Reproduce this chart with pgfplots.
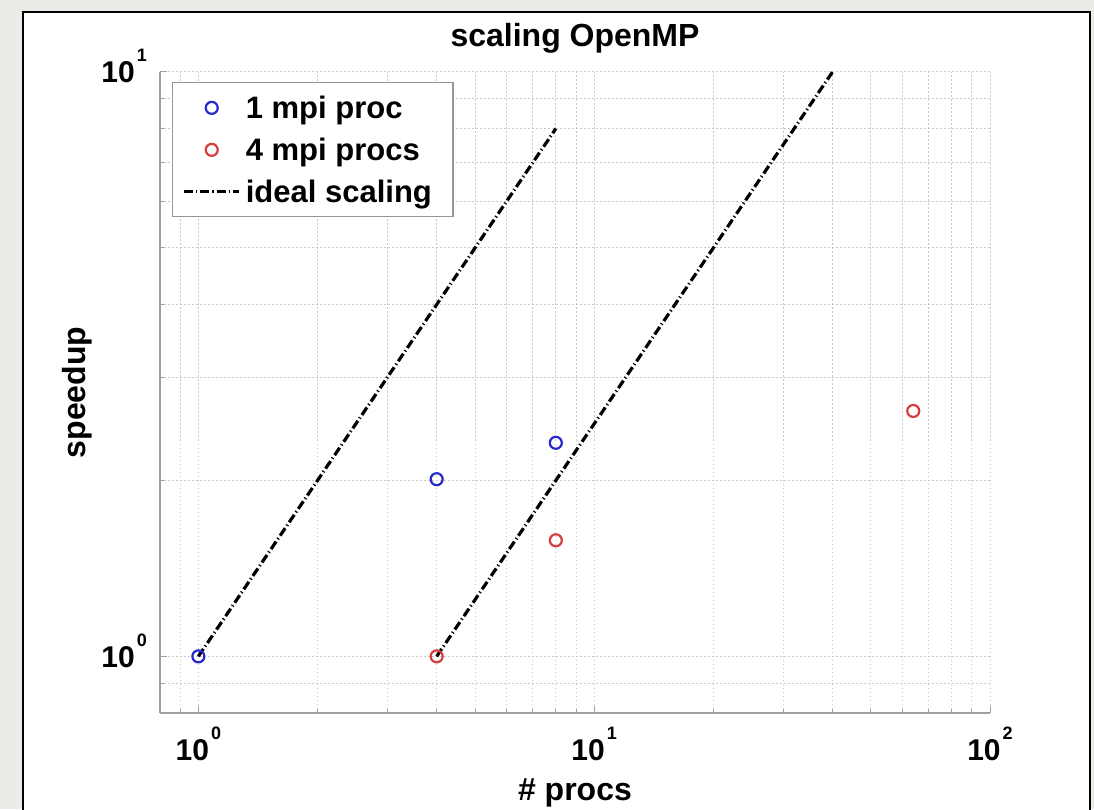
\documentclass[border=0pt]{standalone}
\usepackage{pgfplots}
\pgfplotsset{compat=1.18}
\usepackage{fontspec}
\setmainfont{Liberation Sans}

\definecolor{pagebg}{RGB}{236,235,232}
\definecolor{mblue}{RGB}{40,40,205}
\definecolor{mred}{RGB}{212,62,62}
\definecolor{gridgray}{RGB}{200,200,200}
\definecolor{axgray}{RGB}{160,160,160}
\definecolor{leggray}{RGB}{150,150,150}

% tick label: mantissa 10 with a small raised exponent
\newcommand{\tenpow}[1]{10\hspace{2pt}\raisebox{21pt}{\fontsize{18}{18}\selectfont #1}}

% legend images: a single marker, or a short line segment
\pgfplotsset{
  markimage/.style={legend image code/.code={\draw[##1] plot coordinates {(27.5pt,0pt)};}},
  lineimage/.style={legend image code/.code={\draw[##1] (0pt,0pt) -- (55pt,0pt);}},
  idealline/.style={black, line width=3.2pt, dash pattern=on 9pt off 3pt on 1.2pt off 3pt},
}

\begin{document}
\begin{tikzpicture}
\useasboundingbox (0pt,0pt) rectangle (1094pt,809pt);
\fill[pagebg] (0pt,0pt) rectangle (1094pt,809pt);
\begin{scope}
  \clip (0pt,0pt) rectangle (1094pt,809pt);
  \filldraw[fill=white, draw=black, line width=2.2pt] (23pt,-10pt) rectangle (1090pt,797pt);
\end{scope}
\begin{axis}[
  at={(160pt,96pt)}, anchor=south west, scale only axis,
  width=830pt, height=641pt,
  xmode=log, ymode=log,
  xmin=0.8, xmax=100, ymin=0.8, ymax=10,
  axis x line*=bottom, axis y line*=left,
  axis line style={-, axgray, line width=1.5pt},
  xtick={1,10,100},
  xticklabels={\tenpow{0},\tenpow{1},\tenpow{2}},
  ytick={1,10},
  yticklabels={\tenpow{0},\tenpow{1}},
  minor xtick={0.8,0.9,2,3,4,5,6,7,8,9,20,30,40,50,60,70,80,90},
  minor ytick={0.8,0.9,2,3,4,5,6,7,8,9},
  grid=both,
  major grid style={gridgray, line width=1pt, dash pattern=on 1.5pt off 2.5pt},
  minor grid style={gridgray, line width=1pt, dash pattern=on 1.5pt off 2.5pt},
  tick align=inside,
  major tick length=7pt, minor tick length=4pt,
  every tick/.style={axgray, line width=1pt},
  xticklabel style={font=\fontsize{30}{30}\selectfont\bfseries, anchor=base, inner sep=0pt, yshift=-47pt},
  yticklabel style={font=\fontsize{30}{30}\selectfont\bfseries, anchor=base east, inner sep=0pt, xshift=-13pt, yshift=-11pt},
  title={scaling OpenMP},
  title style={font=\fontsize{32}{32}\selectfont\bfseries, at={(axis description cs:0.5,1)}, anchor=base, yshift=19pt},
  xlabel={\# procs},
  xlabel style={font=\fontsize{32}{32}\selectfont\bfseries, at={(axis description cs:0.5,0)}, anchor=base, yshift=-87pt},
  ylabel={speedup},
  ylabel style={font=\fontsize{32}{32}\selectfont\bfseries, at={(axis description cs:-0.09,0.5)}, anchor=base},
  legend cell align=left,
  legend style={
    at={(axis description cs:0.0145,0.984)}, anchor=north west,
    draw=leggray, line width=1.2pt, fill=white,
    font=\fontsize{31}{36}\selectfont\bfseries,
    inner xsep=10pt, inner ysep=10pt,
    nodes={inner sep=0pt, text height=26pt, text depth=4pt},
    row sep=12pt, column sep=5pt,
  },
]
% measured speedups, one MPI process
\addplot[only marks, mark=o, mark size=6pt, mblue, line width=2.2pt, markimage]
  coordinates {(1,1) (4,2.01) (8,2.32)};
\addlegendentry{1 mpi proc}
% measured speedups, four MPI processes
\addplot[only marks, mark=o, mark size=6pt, mred, line width=2.2pt, markimage]
  coordinates {(4,1) (8,1.58) (64,2.63)};
\addlegendentry{4 mpi procs}
% ideal linear speedup references
\addplot[idealline, lineimage]
  coordinates {(1,1) (8,8)};
\addlegendentry{ideal scaling\hspace*{11pt}}
\addplot[idealline, forget plot]
  coordinates {(4,1) (40,10)};
\end{axis}
\end{tikzpicture}
\end{document}
